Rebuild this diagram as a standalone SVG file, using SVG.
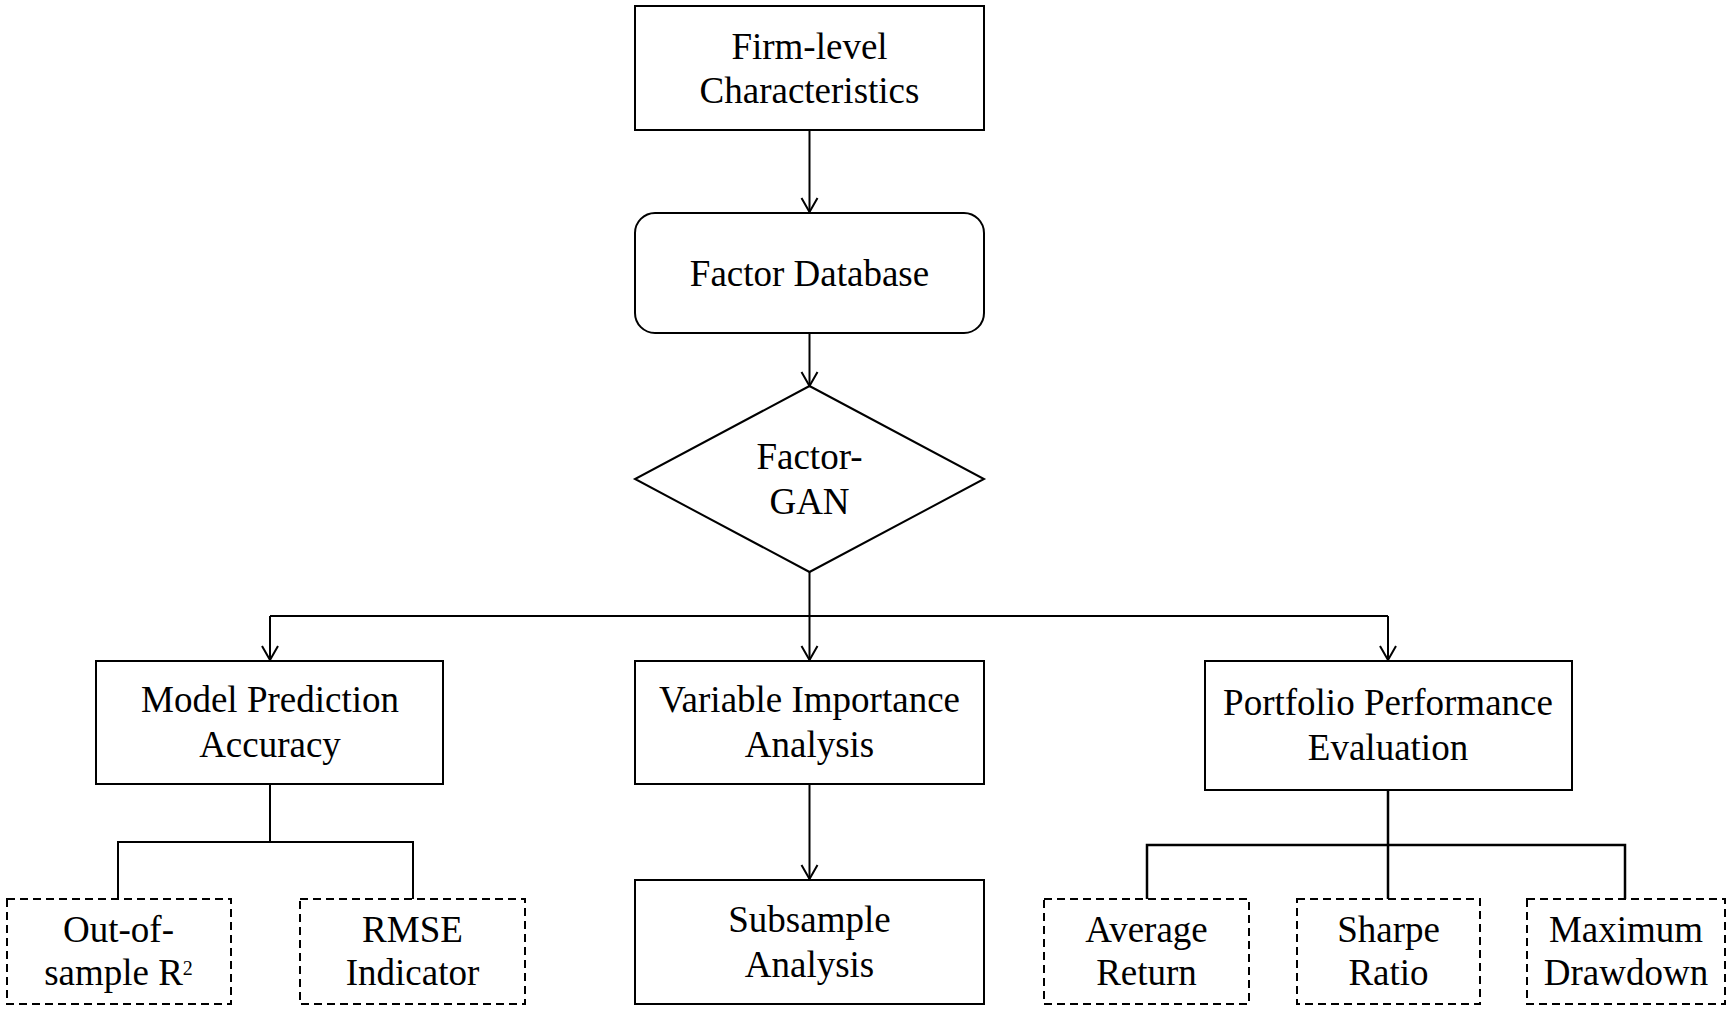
<svg xmlns="http://www.w3.org/2000/svg" width="1731" height="1011" viewBox="0 0 1731 1011">
<style>
.box{fill:#fff;stroke:#000;stroke-width:2}
.dash{fill:#fff;stroke:#000;stroke-width:2;stroke-dasharray:8 5}
.ln{fill:none;stroke:#000;stroke-width:2}
text{font-family:"Liberation Serif","Times New Roman",serif;font-size:37px;fill:#000;text-anchor:middle}
</style>
<defs>
<marker id="arr" markerUnits="userSpaceOnUse" markerWidth="20" markerHeight="24" refX="15" refY="10" orient="auto" viewBox="0 0 20 20">
<path d="M1,2 L15,10 L1,18" fill="none" stroke="#000" stroke-width="2"/>
</marker>
</defs>
<rect width="1731" height="1011" fill="#fff"/>
<g id="connectors">
<line class="ln" x1="809.5" y1="130" x2="809.5" y2="212" marker-end="url(#arr)"/>
<line class="ln" x1="809.5" y1="333" x2="809.5" y2="386" marker-end="url(#arr)"/>
<line class="ln" x1="809.5" y1="572" x2="809.5" y2="660" marker-end="url(#arr)"/>
<line class="ln" x1="270" y1="616" x2="1388" y2="616"/>
<path class="ln" d="M270,616 V660" marker-end="url(#arr)"/>
<path class="ln" d="M1388,616 V660" marker-end="url(#arr)"/>
<line class="ln" x1="809.5" y1="784" x2="809.5" y2="879" marker-end="url(#arr)"/>
<path class="ln" d="M270,784 V842 M118,899 V842 H413 V899"/>
<path class="ln" style="stroke-width:2.5" d="M1388,790 V899 M1147,899 V845 H1625 V899"/>
</g>
<g id="firm">
<rect class="box" x="635" y="6" width="349" height="124"/>
<text x="809.5" y="59">Firm-level</text>
<text x="809.5" y="103">Characteristics</text>
</g>
<g id="factordb">
<rect class="box" x="635" y="213" width="349" height="120" rx="20" ry="20"/>
<text x="809.5" y="286">Factor Database</text>
</g>
<g id="factorgan">
<polygon class="box" points="809.5,386 984,479 809.5,572 635,479"/>
<text x="809.5" y="469">Factor-</text>
<text x="809.5" y="514">GAN</text>
</g>
<g id="model">
<rect class="box" x="96" y="661" width="347" height="123"/>
<text x="270" y="712">Model Prediction</text>
<text x="270" y="757">Accuracy</text>
</g>
<g id="variable">
<rect class="box" x="635" y="661" width="349" height="123"/>
<text x="809.5" y="712">Variable Importance</text>
<text x="809.5" y="757">Analysis</text>
</g>
<g id="portfolio">
<rect class="box" x="1205" y="661" width="367" height="129"/>
<text x="1388" y="715">Portfolio Performance</text>
<text x="1388" y="760">Evaluation</text>
</g>
<g id="subsample">
<rect class="box" x="635" y="880" width="349" height="124"/>
<text x="809.5" y="932">Subsample</text>
<text x="809.5" y="977">Analysis</text>
</g>
<g id="oos">
<rect class="dash" x="7" y="899" width="224" height="105"/>
<text x="118.5" y="942">Out-of-</text>
<text x="118.5" y="985">sample R<tspan font-size="20" dy="-10">2</tspan></text>
</g>
<g id="rmse">
<rect class="dash" x="300" y="899" width="225" height="105"/>
<text x="412.5" y="942">RMSE</text>
<text x="412.5" y="985">Indicator</text>
</g>
<g id="avg">
<rect class="dash" x="1044" y="899" width="205" height="105"/>
<text x="1146.5" y="942">Average</text>
<text x="1146.5" y="985">Return</text>
</g>
<g id="sharpe">
<rect class="dash" x="1297" y="899" width="183" height="105"/>
<text x="1388.5" y="942">Sharpe</text>
<text x="1388.5" y="985">Ratio</text>
</g>
<g id="mdd">
<rect class="dash" x="1527" y="899" width="198" height="105"/>
<text x="1626" y="942">Maximum</text>
<text x="1626" y="985">Drawdown</text>
</g>
</svg>
